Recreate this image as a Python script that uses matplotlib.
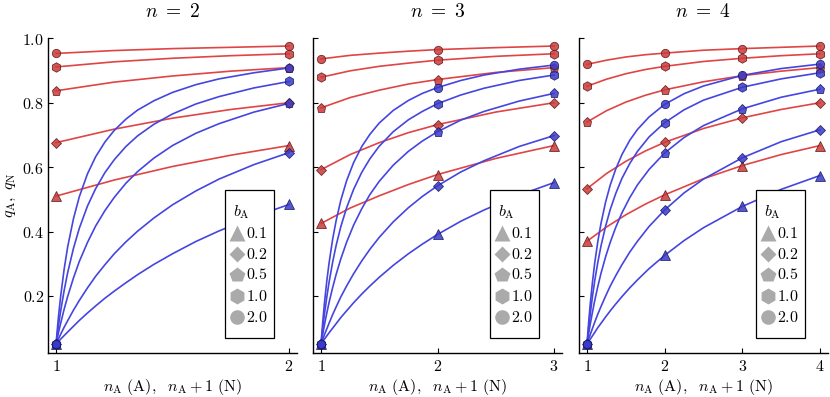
import numpy as np
import matplotlib
matplotlib.use("Agg")
import matplotlib.pyplot as plt
from matplotlib.patches import Rectangle

plt.rcParams['mathtext.fontset'] = 'cm'
plt.rcParams['font.family'] = 'DejaVu Serif'

# b_A values and their marker shapes
b_labels = ['0.1', '0.2', '0.5', '1.0', '2.0']
b_markers = ['^', 'D', 'p', 'h', 'o']
b_msize = [6.5, 4.6, 6.8, 6.8, 6.0]

# n = 2 : q_A (blue) vs n_A, q_N (red) vs n_A + 1
xA_n2 = [1.0, 1.01, 1.02, 1.035, 1.05, 1.075, 1.1, 1.135, 1.17, 1.21,
         1.25, 1.3, 1.35, 1.42, 1.5, 1.6, 1.7, 1.85, 2.0]
qA_n2 = [
    [0.05, 0.058, 0.066, 0.077, 0.088, 0.106, 0.124, 0.147, 0.169, 0.193,
     0.215, 0.241, 0.266, 0.298, 0.331, 0.369, 0.402, 0.446, 0.484],
    [0.05, 0.066, 0.081, 0.103, 0.123, 0.156, 0.186, 0.225, 0.261, 0.297,
     0.331, 0.368, 0.401, 0.442, 0.483, 0.526, 0.563, 0.608, 0.645],
    [0.05, 0.084, 0.115, 0.159, 0.198, 0.256, 0.307, 0.366, 0.417, 0.465,
     0.506, 0.550, 0.586, 0.628, 0.667, 0.705, 0.735, 0.771, 0.798],
    [0.05, 0.105, 0.153, 0.217, 0.272, 0.348, 0.410, 0.479, 0.533, 0.583,
     0.623, 0.664, 0.697, 0.733, 0.765, 0.796, 0.819, 0.846, 0.866],
    [0.05, 0.131, 0.199, 0.283, 0.352, 0.440, 0.508, 0.579, 0.632, 0.678,
     0.714, 0.749, 0.777, 0.806, 0.832, 0.856, 0.874, 0.893, 0.908],
]
xN_n2 = [1.0, 1.25, 1.5, 1.75, 2.0]
qN_n2 = [
    [0.510, 0.560, 0.602, 0.637, 0.667],
    [0.676, 0.718, 0.752, 0.779, 0.800],
    [0.837, 0.864, 0.883, 0.898, 0.909],
    [0.911, 0.927, 0.938, 0.946, 0.952],
    [0.953, 0.962, 0.968, 0.972, 0.976],
]

# n = 3
xA_n3 = [1.0, 1.015, 1.03, 1.05, 1.07, 1.1, 1.13, 1.17, 1.22, 1.28, 1.35,
         1.42, 1.5, 1.62, 1.75, 1.87, 2.0, 2.2, 2.4, 2.7, 3.0]
qA_n3 = [
    [0.05, 0.058, 0.066, 0.076, 0.086, 0.100, 0.114, 0.133, 0.154, 0.179, 0.206,
     0.231, 0.258, 0.295, 0.331, 0.361, 0.391, 0.432, 0.467, 0.513, 0.552],
    [0.05, 0.065, 0.080, 0.098, 0.116, 0.142, 0.166, 0.197, 0.231, 0.269, 0.309,
     0.345, 0.382, 0.430, 0.474, 0.509, 0.542, 0.585, 0.620, 0.664, 0.698],
    [0.05, 0.081, 0.111, 0.147, 0.181, 0.226, 0.267, 0.315, 0.367, 0.420, 0.471,
     0.515, 0.556, 0.606, 0.649, 0.681, 0.710, 0.746, 0.773, 0.805, 0.829],
    [0.05, 0.100, 0.144, 0.197, 0.244, 0.305, 0.357, 0.415, 0.474, 0.531, 0.584,
     0.626, 0.665, 0.710, 0.747, 0.773, 0.797, 0.824, 0.845, 0.869, 0.886],
    [0.05, 0.119, 0.179, 0.247, 0.304, 0.376, 0.434, 0.497, 0.558, 0.614, 0.664,
     0.702, 0.737, 0.776, 0.807, 0.829, 0.847, 0.869, 0.886, 0.904, 0.917],
]
xN_n3 = [1.0, 1.25, 1.5, 1.75, 2.0, 2.5, 3.0]
qN_n3 = [
    [0.425, 0.473, 0.511, 0.546, 0.577, 0.627, 0.667],
    [0.592, 0.639, 0.676, 0.707, 0.732, 0.771, 0.800],
    [0.784, 0.816, 0.839, 0.858, 0.872, 0.894, 0.909],
    [0.879, 0.899, 0.913, 0.923, 0.932, 0.944, 0.952],
    [0.936, 0.947, 0.954, 0.960, 0.965, 0.971, 0.976],
]

# n = 4
xA_n4 = [1.0, 1.02, 1.04, 1.07, 1.1, 1.14, 1.18, 1.24, 1.3, 1.37,
         1.45, 1.55, 1.65, 1.8, 2.0, 2.25, 2.5, 3.0, 3.5, 4.0]
qA_n4 = [
    [0.05, 0.058, 0.065, 0.076, 0.087, 0.102, 0.115, 0.135, 0.154, 0.175,
     0.198, 0.225, 0.250, 0.285, 0.326, 0.372, 0.412, 0.478, 0.531, 0.574],
    [0.05, 0.065, 0.079, 0.099, 0.119, 0.144, 0.167, 0.200, 0.231, 0.263,
     0.297, 0.336, 0.370, 0.416, 0.467, 0.520, 0.563, 0.629, 0.679, 0.716],
    [0.05, 0.081, 0.110, 0.149, 0.186, 0.230, 0.270, 0.322, 0.367, 0.413,
     0.458, 0.505, 0.545, 0.593, 0.644, 0.692, 0.729, 0.781, 0.817, 0.842],
    [0.05, 0.097, 0.140, 0.198, 0.248, 0.305, 0.355, 0.417, 0.469, 0.518,
     0.565, 0.611, 0.649, 0.694, 0.738, 0.778, 0.808, 0.848, 0.874, 0.893],
    [0.05, 0.114, 0.170, 0.242, 0.303, 0.370, 0.425, 0.492, 0.545, 0.594,
     0.639, 0.683, 0.717, 0.756, 0.795, 0.828, 0.852, 0.885, 0.906, 0.920],
]
xN_n4 = [1.0, 1.25, 1.5, 1.75, 2.0, 2.5, 3.0, 3.5, 4.0]
qN_n4 = [
    [0.370, 0.414, 0.452, 0.485, 0.514, 0.564, 0.605, 0.639, 0.667],
    [0.533, 0.580, 0.618, 0.650, 0.677, 0.720, 0.753, 0.779, 0.800],
    [0.740, 0.775, 0.802, 0.823, 0.840, 0.865, 0.884, 0.898, 0.909],
    [0.851, 0.873, 0.890, 0.903, 0.913, 0.928, 0.938, 0.946, 0.952],
    [0.919, 0.932, 0.942, 0.949, 0.954, 0.963, 0.968, 0.972, 0.976],
]

panels = [
    (2, xA_n2, qA_n2, xN_n2, qN_n2),
    (3, xA_n3, qA_n3, xN_n3, qN_n3),
    (4, xA_n4, qA_n4, xN_n4, qN_n4),
]
yticks = [0.2, 0.4, 0.6, 0.8, 1.0]

red_line, red_face, red_edge = '#e04545', '#cc3a3a', '#5a1818'
blue_line, blue_face, blue_edge = '#4545e0', '#3a3acc', '#18185a'


def draw_series(ax, x, q, j, lc, fc, ec):
    x = np.asarray(x)
    q = np.asarray(q)
    ax.plot(x, q, color=lc, lw=1.2, zorder=2, solid_joinstyle='round')
    at_int = np.isclose(x, np.round(x))
    ax.plot(x[at_int], q[at_int], ls='none', marker=b_markers[j],
            ms=b_msize[j], mfc=fc, mec=ec, mew=0.6, alpha=0.85,
            zorder=3, clip_on=False)


W, H = 830, 397
lefts = [48.3, 313.3, 579.3]
fig = plt.figure(figsize=(W / 100, H / 100), dpi=100)

for i, (n, xa, qa, xn, qn) in enumerate(panels):
    ax = fig.add_axes([lefts[i] / W, (H - 353.3) / H, 248.4 / W, 315 / H])
    for j in range(5):
        draw_series(ax, xn, qn[j], j, red_line, red_face, red_edge)
    for j in range(5):
        draw_series(ax, xa, qa[j], j, blue_line, blue_face, blue_edge)

    pad = 0.033 * (n - 1)
    ax.set_xlim(1 - pad, n + pad)
    ax.set_ylim(0.022, 1.0)
    ax.set_xticks(range(1, n + 1), labels=[f'${k}$' for k in range(1, n + 1)])
    if i == 0:
        ax.set_yticks(yticks, labels=[f'${v:.1f}$' for v in yticks])
    else:
        ax.set_yticks(yticks, labels=[])
    ax.tick_params(direction='in', length=3.5, width=0.8, labelsize=11.5)
    ax.tick_params(axis='x', pad=3.5)
    ax.tick_params(axis='y', pad=3)
    for s in ['top', 'right']:
        ax.spines[s].set_visible(False)
    for s in ['left', 'bottom']:
        ax.spines[s].set_linewidth(1.0)

    ax.text(0.5, 1.083, rf'$n\ =\ {n}$', transform=ax.transAxes,
            ha='center', va='center', fontsize=14)
    ax.text(0.5, -0.106, r'$n_\mathrm{A}\ \mathrm{(A)},\ \ n_\mathrm{A}+1\ \mathrm{(N)}$',
            transform=ax.transAxes, ha='center', va='center', fontsize=11.5)

    # legend box
    ax.add_patch(Rectangle((0.711, 0.049), 0.198, 0.469, transform=ax.transAxes,
                           fill=True, facecolor='white', edgecolor='black',
                           lw=0.9, zorder=5, clip_on=False))
    ax.text(0.779, 0.4495, r'$b_\mathrm{A}$', transform=ax.transAxes,
            ha='center', va='center', fontsize=11.5, zorder=6)
    rows = [0.3819, 0.3152, 0.2486, 0.1819, 0.1152]
    leg_ms = [11, 8.5, 11.5, 11.5, 10.5]
    for j in range(5):
        ax.plot([0.758], [rows[j]], marker=b_markers[j], ms=leg_ms[j], ls='none',
                color='#aaaaaa', mec='none', transform=ax.transAxes,
                zorder=6, clip_on=False)
        ax.text(0.796, rows[j], f'${b_labels[j]}$', transform=ax.transAxes,
                ha='left', va='center', fontsize=11.5, zorder=6)

fig.text(10 / W, 1 - 195 / H, r'$q_\mathrm{A},\ q_\mathrm{N}$', rotation=90,
         ha='center', va='center', fontsize=11.5)

fig.savefig('out.png', dpi=100)
